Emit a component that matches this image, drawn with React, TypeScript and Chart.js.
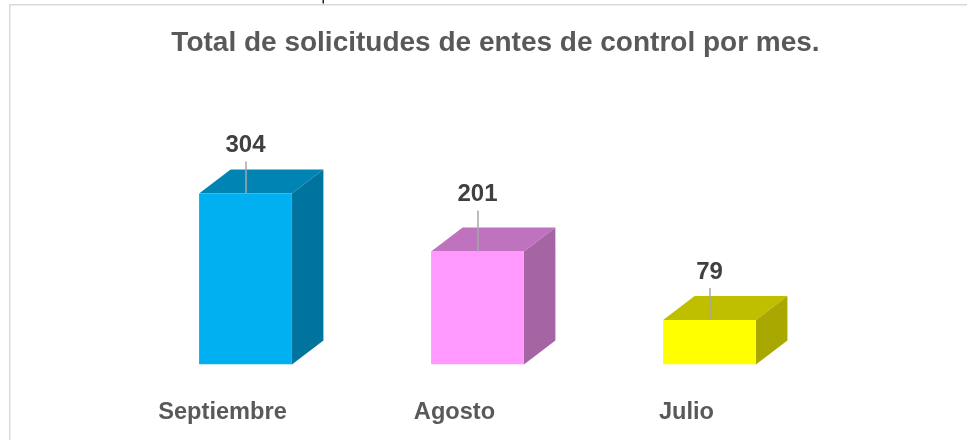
import React, { useEffect, useRef } from "react";
import { Chart, registerables } from "chart.js";

Chart.register(...registerables);

const categories = ["Septiembre", "Agosto", "Julio"];
const values = [304, 201, 79];
const frontColors = ["#00B0F0", "#FF99FF", "#FFFF00"];
const topColors = ["#0084B4", "#BF73BF", "#BFBF00"];
const sideColors = ["#00749E", "#A565A5", "#A8A800"];
const labelRise = [42, 50, 41];
const leaderLength = [32, 41, 32];
const chartTitle = "Total de solicitudes de entes de control por mes.";
const FONT = "'Liberation Sans', Arial, sans-serif";

const bar3d = {
  id: "bar3d",
  afterLayout(chart: any) {
    if (chart.titleBlock) {
      chart.titleBlock.left += 18;
      chart.titleBlock.right += 18;
    }
  },
  beforeDatasetsDraw(chart: any) {
    const ctx = chart.ctx;
    const dx = 31.5;
    const dy = 24;
    chart.getDatasetMeta(0).data.forEach((el: any, i: number) => {
      const l = el.x - el.width / 2;
      const r = el.x + el.width / 2;
      const t = el.y;
      const b = el.base;
      ctx.fillStyle = topColors[i];
      ctx.beginPath();
      ctx.moveTo(l, t);
      ctx.lineTo(l + dx, t - dy);
      ctx.lineTo(r + dx, t - dy);
      ctx.lineTo(r, t);
      ctx.closePath();
      ctx.fill();
      ctx.fillStyle = sideColors[i];
      ctx.beginPath();
      ctx.moveTo(r, t);
      ctx.lineTo(r + dx, t - dy);
      ctx.lineTo(r + dx, b - dy);
      ctx.lineTo(r, b);
      ctx.closePath();
      ctx.fill();
    });
  },
  afterDatasetsDraw(chart: any) {
    const ctx = chart.ctx;
    ctx.save();
    chart.getDatasetMeta(0).data.forEach((el: any, i: number) => {
      const cx = el.x;
      ctx.strokeStyle = "#A6A6A6";
      ctx.lineWidth = 1.5;
      ctx.beginPath();
      ctx.moveTo(cx + 0.5, el.y);
      ctx.lineTo(cx + 0.5, el.y - leaderLength[i]);
      ctx.stroke();
      ctx.fillStyle = "#404040";
      ctx.font = `bold 24px ${FONT}`;
      ctx.textAlign = "center";
      ctx.textBaseline = "alphabetic";
      ctx.fillText(String(values[i]), cx, el.y - labelRise[i]);
    });
    ctx.restore();
  },
  beforeDraw(chart: any) {
    const ctx = chart.ctx;
    ctx.save();
    ctx.strokeStyle = "#D9D9D9";
    ctx.lineWidth = 1.5;
    ctx.beginPath();
    ctx.moveTo(9.75, 440);
    ctx.lineTo(9.75, 4.75);
    ctx.lineTo(967, 4.75);
    ctx.stroke();
    ctx.fillStyle = "#222222";
    ctx.fillRect(322.5, 0, 1.5, 3.5);
    ctx.restore();
  },
};

export default function App() {
  const ref = useRef<HTMLCanvasElement>(null);
  useEffect(() => {
    const chart = new Chart(ref.current!, {
      type: "bar",
      data: {
        labels: categories,
        datasets: [
          {
            data: values,
            backgroundColor: frontColors,
            barPercentage: 0.8,
            categoryPercentage: 0.5,
          },
        ],
      },
      options: {
        responsive: false,
        animation: false,
        layout: { padding: { left: 129.5, right: 141.5, top: 0, bottom: 0 } },
        plugins: {
          legend: { display: false },
          tooltip: { enabled: false },
          title: {
            display: true,
            text: chartTitle,
            color: "#595959",
            font: { family: FONT, size: 28, weight: "bold" },
            padding: { top: 26, bottom: 79.9 },
          },
        },
        scales: {
          x: {
            grid: { display: false },
            border: { display: false },
            afterFit(axis: any) {
              axis.height = 75.5;
            },
            ticks: {
              color: "#595959",
              font: { family: FONT, size: 23.6, weight: "bold" },
              maxRotation: 0,
              autoSkip: false,
              labelOffset: -23,
              padding: 26,
            },
          },
          y: { display: false, min: 0, max: 400 },
        },
      },
      plugins: [bar3d],
    } as any);
    return () => chart.destroy();
  }, []);
  return (
    <canvas
      ref={ref}
      width={967}
      height={440}
      style={{ position: "fixed", left: 0, top: 0, width: 967, height: 440 }}
    />
  );
}
